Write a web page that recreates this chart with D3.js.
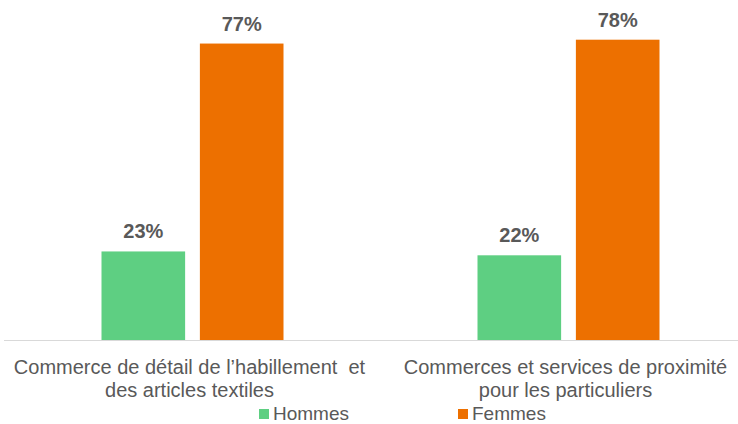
<!DOCTYPE html>
<html><head><meta charset="utf-8">
<script src="https://cdn.jsdelivr.net/npm/d3@7"></script>
<style>body{margin:0;background:#fff}svg{display:block}text{font-family:"Liberation Sans",Arial,sans-serif;white-space:pre}</style>
</head><body><svg id="c" width="738" height="424"></svg>
<script>
const categories = [["Commerce de détail de l’habillement  et","des articles textiles"],["Commerces et services de proximité","pour les particuliers"]];
const seriesNames = ["Hommes","Femmes"];
const hommes = [23, 22];
const femmes = [77, 78];
const colors = ["#5ECF82","#ED7000"];

const svg = d3.select("#c");
const x0 = d3.scaleBand().domain([0,1]).range([4.5,756.5]).padding(0);
const x1 = d3.scaleBand().domain([0,1]).range([0,182]).paddingInner(0.15);
const y = d3.scaleLinear().domain([0,100]).range([340,-45]);
const data = [hommes, femmes];

categories.forEach((cat,i)=>{
  const gx = x0(i) + (x0.bandwidth()-182)/2;
  data.forEach((s,j)=>{
    svg.append("rect").attr("x",gx+x1(j)).attr("y",y(s[i])).attr("width",x1.bandwidth())
      .attr("height",y(0)-y(s[i])).attr("fill",colors[j]);
    svg.append("text").attr("x",gx+x1(j)+x1.bandwidth()/2).attr("y",y(s[i])-13)
      .attr("text-anchor","middle").attr("font-size",20).attr("font-weight","bold").attr("fill","#595959")
      .text(s[i]+"%");
  });
  cat.forEach((line,k)=>{
    svg.append("text").attr("x",x0(i)+x0.bandwidth()/2 - 3).attr("y",374+k*23)
      .attr("text-anchor","middle").attr("font-size",20).attr("fill","#595959").text(line);
  });
});
svg.append("line").attr("x1",4).attr("x2",738).attr("y1",340.5).attr("y2",340.5).attr("stroke","#d9d9d9").attr("stroke-width",1);

const legX = [259, 458];
seriesNames.forEach((n,j)=>{
  svg.append("rect").attr("x",legX[j]).attr("y",409).attr("width",10).attr("height",10).attr("fill",colors[j]);
  svg.append("text").attr("x",legX[j]+14).attr("y",420).attr("font-size",19).attr("fill","#595959").text(n);
});
</script></body></html>
